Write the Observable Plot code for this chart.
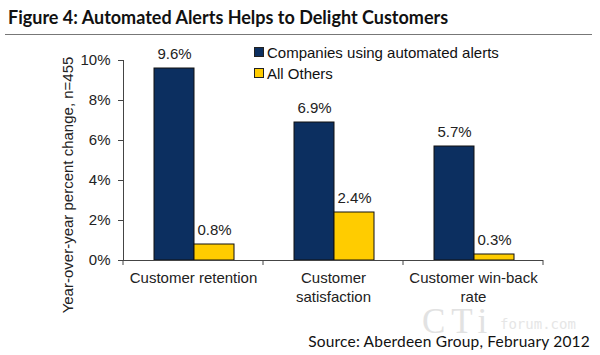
<!DOCTYPE html>
<html>
<head>
<meta charset="utf-8">
<script src="https://cdn.jsdelivr.net/npm/d3@7"></script>
<script src="https://cdn.jsdelivr.net/npm/@observablehq/plot@0.6"></script>
<style>
  html, body { margin: 0; padding: 0; background: #fff; }
  #wrap { position: relative; width: 600px; height: 355px; overflow: hidden; font-family: "Liberation Sans", Arial, sans-serif; }
  #title { position: absolute; left: 8px; top: 6px; font-family: Lato, "Open Sans", sans-serif; font-weight: bold; font-size: 18px; color: #111; white-space: nowrap; }
  #rule { position: absolute; left: 5px; top: 34px; width: 587px; height: 0; border-top: 1.5px solid #777; }
  #chart { position: absolute; left: 0; top: 0; }
  #ylabel { position: absolute; left: 67px; top: 185px; transform: translate(-50%, -50%) rotate(-90deg); font-size: 15px; color: #222; white-space: nowrap; }
  .leg { position: absolute; left: 254px; font-size: 15px; color: #111; white-space: nowrap; }
  .leg span.sw { display: inline-block; width: 8px; height: 8px; border: 1px solid #222; margin-right: 3px; vertical-align: 1px; }
  #source { position: absolute; right: 10px; top: 333px; line-height: 16px; font-family: Lato, "Open Sans", sans-serif; font-size: 15.5px; letter-spacing: 0.2px; color: #111; white-space: nowrap; }
  #wm1 { position: absolute; left: 422px; top: 310px; line-height: 23px; font-family: "Liberation Serif", "DejaVu Serif", serif; font-size: 35px; color: #e2e2e2; letter-spacing: 6px; }
  #wm2 { position: absolute; left: 500px; top: 318px; line-height: 12px; font-family: "DejaVu Sans Mono", monospace; font-size: 14px; color: #e6e6e6; }
</style>
</head>
<body>
<div id="wrap">
  <div id="wm1">CTi</div>
  <div id="wm2">forum.com</div>
  <div id="chart"></div>
  <div id="title">Figure 4: Automated Alerts Helps to Delight Customers</div>
  <div id="rule"></div>
  <div id="ylabel">Year-over-year percent change, n=455</div>
  <div class="leg" style="top:44px"><span class="sw" style="background:#0C2F60"></span>Companies using automated alerts</div>
  <div class="leg" style="top:65px"><span class="sw" style="background:#FFCC00"></span>All Others</div>
  <div id="source">Source: Aberdeen Group, February 2012</div>
</div>
<script>
const categories = ["Customer retention", "Customer\nsatisfaction", "Customer win-back\nrate"];
const series = ["Companies using automated alerts", "All Others"];
const automated = [9.6, 6.9, 5.7];
const others = [0.8, 2.4, 0.3];
const yTicks = [0, 2, 4, 6, 8, 10];
const colors = ["#0C2F60", "#FFCC00"];

const dataA = categories.map((c, i) => ({cat: c, series: series[0], value: automated[i]}));
const dataO = categories.map((c, i) => ({cat: c, series: series[1], value: others[i]}));

const bandTicks = (index, {x, y}) => {
  const g = d3.create("svg:g").attr("stroke", "#444").attr("stroke-width", 1);
  const starts = categories.map(c => x(c));
  const step = starts[1] - starts[0];
  const pos = [...starts, starts[starts.length - 1] + step];
  const y0 = y(0);
  for (const p of pos) {
    g.append("line").attr("x1", p).attr("x2", p).attr("y1", y0).attr("y2", y0 + 5);
  }
  return g.node();
};

const chart = Plot.plot({
  width: 600,
  height: 355,
  marginTop: 60,
  marginBottom: 95,
  marginLeft: 123,
  marginRight: 57,
  style: {fontFamily: "'Liberation Sans', Arial, sans-serif", fontSize: "15px", color: "#222", background: "transparent", overflow: "visible"},
  x: {domain: categories, padding: 0},
  y: {domain: [0, 10], ticks: yTicks},
  marks: [
    Plot.barY(dataA, {x: "cat", y: "value", fill: colors[0], stroke: "#111", strokeWidth: 1, insetLeft: 31, insetRight: 69}),
    Plot.barY(dataO, {x: "cat", y: "value", fill: colors[1], stroke: "#111", strokeWidth: 1, insetLeft: 71, insetRight: 29}),
    Plot.text(dataA, {x: "cat", y: "value", text: d => d.value.toFixed(1) + "%", dx: -19, dy: -10, lineAnchor: "bottom", fontSize: 15, fill: "#222"}),
    Plot.text(dataO, {x: "cat", y: "value", text: d => d.value.toFixed(1) + "%", dx: 21, dy: -10, lineAnchor: "bottom", fontSize: 15, fill: "#222"}),
    Plot.axisY({ticks: yTicks, tickFormat: d => d + "%", tickSize: 5, tickPadding: 8, label: null, fontSize: 15, stroke: "#444"}),
    Plot.axisX({tickSize: 0, tickPadding: 9, label: null, fontSize: 15, lineHeight: 1.25}),
    Plot.frame({anchor: "left", stroke: "#444"}),
    Plot.ruleY([0], {stroke: "#444"}),
    bandTicks
  ]
});
document.getElementById("chart").appendChild(chart);
</script>
</body>
</html>
